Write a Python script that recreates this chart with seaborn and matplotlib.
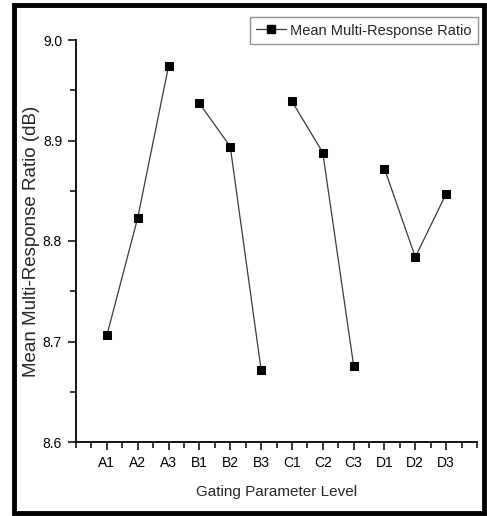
import numpy as np
import pandas as pd
import matplotlib
matplotlib.use("Agg")
import matplotlib.pyplot as plt
import seaborn as sns
from matplotlib.lines import Line2D
from matplotlib.patches import Rectangle
from matplotlib.ticker import MultipleLocator

# data
levels = ["A1", "A2", "A3", "B1", "B2", "B3", "C1", "C2", "C3", "D1", "D2", "D3"]
factors = ["A", "A", "A", "B", "B", "B", "C", "C", "C", "D", "D", "D"]
ratio = [8.706, 8.823, 8.974, 8.937, 8.894, 8.672, 8.939, 8.888, 8.676, 8.872, 8.784, 8.847]
yticks = [8.6, 8.7, 8.8, 8.9, 9.0]

df = pd.DataFrame({"level": levels, "factor": factors, "ratio": ratio})
df["pos"] = np.arange(1, len(levels) + 1)

sns.set_style("white")
plt.rcParams["font.family"] = ["Liberation Sans", "DejaVu Sans"]

fig = plt.figure(figsize=(4.87, 5.16), dpi=100)
ax = fig.add_axes([76 / 487, 74 / 516, 401 / 487, 402 / 516])

# one broken line per factor
for f in ["A", "B", "C", "D"]:
    sns.lineplot(data=df[df["factor"] == f], x="pos", y="ratio", ax=ax,
                 color="#3a3a3a", linewidth=0.9, marker="s", markersize=5.5,
                 markerfacecolor="black", markeredgecolor="black",
                 legend=False)

ax.set_xlim(0, 13)
ax.set_ylim(8.6, 9.0)
ax.set_xticks(df["pos"])
ax.set_xticklabels(levels, fontsize=10)
ax.xaxis.set_minor_locator(MultipleLocator(0.5))
ax.yaxis.set_minor_locator(MultipleLocator(0.05))
ax.set_yticks(yticks)
ax.set_yticklabels([f"{v:.1f}" for v in yticks], fontsize=10)
ax.tick_params(axis="both", which="major", direction="out", length=6, width=1.1,
               colors="black", pad=4)
ax.tick_params(axis="both", which="minor", direction="out", length=4, width=1.1,
               colors="black")
ax.tick_params(axis="x", which="both", bottom=True)
ax.tick_params(axis="y", which="both", left=True)

for s in ["top", "right"]:
    ax.spines[s].set_visible(False)
for s in ["left", "bottom"]:
    ax.spines[s].set_color("black")
    ax.spines[s].set_linewidth(1.3)

ax.set_xlabel("Gating Parameter Level", fontsize=11, labelpad=11)
ax.set_ylabel("Mean Multi-Response Ratio (dB)", fontsize=13.5)
ax.yaxis.set_label_coords(-0.09, 0.5)

handle = Line2D([], [], color="#3a3a3a", linewidth=0.9, marker="s",
                markersize=5.5, markerfacecolor="black", markeredgecolor="black")
leg = fig.legend([handle], ["Mean Multi-Response Ratio"],
                 loc="upper right", bbox_to_anchor=(478 / 487, 1 - 17 / 516),
                 borderaxespad=0, frameon=True, fancybox=False, edgecolor="#777777",
                 handlelength=2.0, borderpad=0.45, handletextpad=0.3,
                 prop={"size": 10.5})
leg.get_frame().set_linewidth(1.0)

# thick frame around the whole picture
fig.patches.append(Rectangle((14 / 487, 3 / 516), 470 / 487, 508 / 516,
                             transform=fig.transFigure, fill=False,
                             edgecolor="black", linewidth=3.5))

fig.savefig("out.png", dpi=100)
